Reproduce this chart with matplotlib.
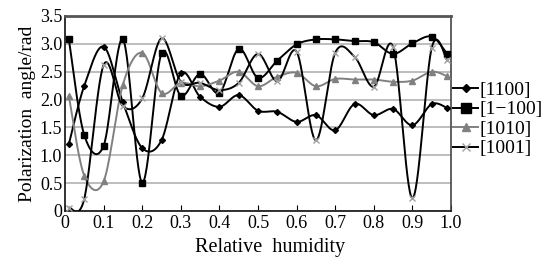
import numpy as np
import matplotlib.pyplot as plt

plt.rcParams['font.family'] = ['Liberation Serif', 'DejaVu Serif']

humidity = [0.01, 0.05, 0.10, 0.15, 0.20, 0.25, 0.30, 0.35, 0.40, 0.45, 0.50,
            0.55, 0.60, 0.65, 0.70, 0.75, 0.80, 0.85, 0.90, 0.95, 0.99]

a1100 = [1.20, 2.25, 2.95, 1.95, 1.13, 1.27, 2.47, 2.05, 1.87, 2.08, 1.80,
         1.78, 1.60, 1.72, 1.45, 1.92, 1.72, 1.83, 1.54, 1.92, 1.85]
a1m100 = [3.08, 1.36, 1.17, 3.08, 0.51, 2.83, 2.07, 2.46, 2.12, 2.91, 2.39,
          2.70, 2.99, 3.08, 3.08, 3.05, 3.03, 2.82, 3.01, 3.13, 2.82]
a1010 = [2.06, 0.63, 0.53, 2.27, 2.84, 2.12, 2.30, 2.24, 2.34, 2.50, 2.24,
         2.41, 2.48, 2.24, 2.37, 2.36, 2.36, 2.32, 2.34, 2.50, 2.42]
a1001 = [0.06, 0.22, 2.62, 1.88, 2.02, 3.10, 2.32, 2.30, 2.17, 2.30, 2.82,
         2.33, 2.86, 1.27, 2.84, 2.77, 2.23, 2.94, 0.23, 2.93, 2.71]

labels = ['[1100]', '[1\u2212100]', '[1010]', '[1001]']


def smooth(x, y, n=30):
    # Excel-like smoothed line (Catmull-Rom through the points)
    p = np.column_stack([x, y])
    p = np.vstack([p[0], p, p[-1]])
    out = []
    t = np.linspace(0, 1, n, endpoint=False)[:, None]
    for i in range(1, len(p) - 2):
        p0, p1, p2, p3 = p[i - 1], p[i], p[i + 1], p[i + 2]
        c1 = p1 + (p2 - p0) / 6
        c2 = p2 - (p3 - p1) / 6
        out.append((1 - t)**3 * p1 + 3 * (1 - t)**2 * t * c1
                   + 3 * (1 - t) * t**2 * c2 + t**3 * p2)
    out.append(p[-2][None, :])
    out = np.vstack(out)
    return out[:, 0], out[:, 1]


fig = plt.figure(figsize=(5.43, 2.61), dpi=100)
ax = fig.add_axes([0.1197, 0.1916, 0.7109, 0.7471])

styles = [
    (a1100, 'black', 'D', 3, 'black'),
    (a1m100, 'black', 's', 5, 'black'),
    (a1010, '#808080', '^', 4.5, '#808080'),
    (a1001, 'black', 'x', 4, '#a0a0a0'),
]
for (ys, lc, m, ms, mc), lab in zip(styles, labels):
    sx, sy = smooth(np.array(humidity), np.array(ys))
    ax.plot(sx, sy, color=lc, lw=1.4, zorder=3)
    ax.plot(humidity, ys, ls='none', marker=m, ms=ms, color=mc, zorder=4)
    ax.plot([], [], color=lc, lw=1.4, marker=m, ms=ms + 1.5, mfc=mc, mec=mc,
            label=lab)

ax.set_xlim(0, 1.0)
ax.set_ylim(0, 3.5)
ax.set_xticks(np.arange(0, 1.01, 0.1))
ax.set_xticklabels(['0'] + ['%.1f' % v for v in np.arange(0.1, 1.01, 0.1)])
ax.set_yticks(np.arange(0, 3.51, 0.5))
ax.set_yticklabels(['0'] + ['%.1f' % v for v in np.arange(0.5, 3.51, 0.5)])
ax.tick_params(axis='x', direction='in', length=4, labelsize=13, pad=3)
ax.tick_params(axis='y', length=0, labelsize=13, pad=2)
ax.yaxis.grid(True, color='#b8b8b8', lw=1.3)
ax.set_axisbelow(True)
for s in ['left', 'bottom']:
    ax.spines[s].set_color('#222222')
    ax.spines[s].set_linewidth(1.3)
ax.spines['top'].set_color('#555555')
ax.spines['top'].set_linewidth(2)
ax.spines['right'].set_color('#444444')
ax.spines['right'].set_linewidth(1.2)

ax.set_xlabel('Relative  humidity', fontsize=14.5)
ax.xaxis.set_label_coords(0.53, -0.14)
ax.set_ylabel('Polarization  angle/rad', fontsize=14, labelpad=3)

ax.legend(loc='center left', bbox_to_anchor=(1.005, 0.47), frameon=False,
          fontsize=14, handlelength=1.3, handletextpad=0.05,
          labelspacing=0.1, borderaxespad=0.0, borderpad=0.0)

fig.savefig('out.png', dpi=100)
